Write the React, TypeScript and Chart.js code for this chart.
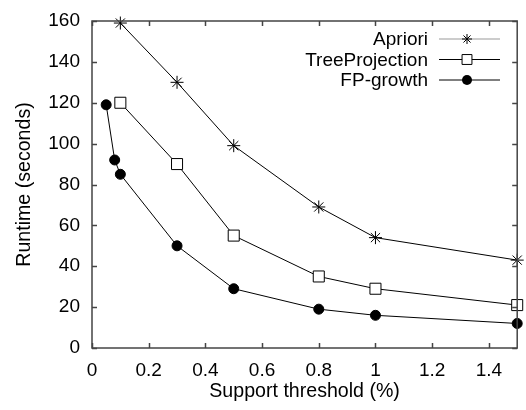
import React, { useEffect, useRef } from "react";
import { Chart, registerables } from "chart.js";

Chart.register(...registerables);

const seriesNames = ["Apriori", "TreeProjection", "FP-growth"];
const supportApriori = [0.1, 0.3, 0.5, 0.8, 1.0, 1.5];
const runtimeApriori = [159, 130, 99, 69, 54, 43];
const supportTree = [0.1, 0.3, 0.5, 0.8, 1.0, 1.5];
const runtimeTree = [120, 90, 55, 35, 29, 21];
const supportFP = [0.05, 0.08, 0.1, 0.3, 0.5, 0.8, 1.0, 1.5];
const runtimeFP = [119, 92, 85, 50, 29, 19, 16, 12];
const xTickStep = 0.2;
const xTickLast = 1.4;
const yTickStep = 20;

const FONT = "'Liberation Sans', Arial, Helvetica, sans-serif";

const toPoints = (xs: number[], ys: number[]) => xs.map((x, i) => ({ x, y: ys[i] }));

const framePlugin = {
  id: "frame",
  afterDatasetsDraw(chart: any) {
    const { ctx, chartArea: a, scales } = chart;
    ctx.save();
    ctx.strokeStyle = "#444";
    ctx.lineWidth = 1.5;
    ctx.strokeRect(a.left, a.top, a.right - a.left, a.bottom - a.top);
    const len = 5;
    ctx.beginPath();
    for (const t of scales.x.ticks) {
      if (t.value > xTickLast + 1e-6) continue;
      const px = Math.round(scales.x.getPixelForValue(t.value)) + 0.5;
      ctx.moveTo(px, a.bottom);
      ctx.lineTo(px, a.bottom - len);
      ctx.moveTo(px, a.top);
      ctx.lineTo(px, a.top + len);
    }
    for (const t of scales.y.ticks) {
      const py = Math.round(scales.y.getPixelForValue(t.value)) + 0.5;
      ctx.moveTo(a.left, py);
      ctx.lineTo(a.left + len, py);
      ctx.moveTo(a.right, py);
      ctx.lineTo(a.right - len, py);
    }
    ctx.stroke();
    ctx.restore();
  },
};

function drawMarker(ctx: CanvasRenderingContext2D, style: string, x: number, y: number, r: number) {
  ctx.beginPath();
  if (style === "star") {
    ctx.moveTo(x - r, y); ctx.lineTo(x + r, y);
    ctx.moveTo(x, y - r); ctx.lineTo(x, y + r);
    const d = r * Math.SQRT1_2;
    ctx.moveTo(x - d, y - d); ctx.lineTo(x + d, y + d);
    ctx.moveTo(x - d, y + d); ctx.lineTo(x + d, y - d);
    ctx.stroke();
  } else if (style === "rect") {
    const s = r * Math.SQRT1_2;
    ctx.fillStyle = "#fff";
    ctx.rect(x - s, y - s, 2 * s, 2 * s);
    ctx.fill();
    ctx.stroke();
  } else {
    ctx.fillStyle = "#000";
    ctx.arc(x, y, r, 0, Math.PI * 2);
    ctx.fill();
  }
}

const legendPlugin = {
  id: "customLegend",
  afterDraw(chart: any) {
    const { ctx } = chart;
    const styles = ["star", "rect", "circle"];
    const radii = [5, 7, 5];
    const lineColors = ["#999", "#000", "#000"];
    ctx.save();
    ctx.font = `19px ${FONT}`;
    ctx.textAlign = "right";
    ctx.textBaseline = "middle";
    seriesNames.forEach((name, i) => {
      const y = 39 + i * 20.5;
      ctx.fillStyle = "#000";
      ctx.fillText(name, 428, y + 1);
      ctx.strokeStyle = lineColors[i];
      ctx.lineWidth = 1;
      ctx.beginPath();
      ctx.moveTo(439, y);
      ctx.lineTo(500, y);
      ctx.stroke();
      ctx.strokeStyle = "#000";
      drawMarker(ctx, styles[i], 467, y, radii[i]);
    });
    ctx.restore();
  },
};

export default function App() {
  const ref = useRef<HTMLCanvasElement>(null);
  useEffect(() => {
    if (!ref.current) return;
    const common = {
      borderColor: "#000",
      borderWidth: 1,
      showLine: true,
      fill: false,
      tension: 0,
      clip: false as any,
      pointBorderColor: "#000",
      pointBorderWidth: 1,
    };
    const chart = new Chart(ref.current, {
      type: "scatter",
      data: {
        datasets: [
          {
            ...common,
            label: seriesNames[0],
            data: toPoints(supportApriori, runtimeApriori),
            pointStyle: "star",
            pointRadius: 6.5,
            pointBackgroundColor: "#000",
          },
          {
            ...common,
            label: seriesNames[1],
            data: toPoints(supportTree, runtimeTree),
            pointStyle: "rect",
            pointRadius: 7.8,
            pointBackgroundColor: "#fff",
          },
          {
            ...common,
            label: seriesNames[2],
            data: toPoints(supportFP, runtimeFP),
            pointStyle: "circle",
            pointRadius: 5,
            pointBackgroundColor: "#000",
          },
        ],
      },
      options: {
        responsive: false,
        animation: false,
        layout: { padding: { top: 21, right: 3, left: 0, bottom: 0 } },
        plugins: { legend: { display: false }, tooltip: { enabled: false } },
        scales: {
          x: {
            type: "linear",
            min: 0,
            max: 1.5,
            grid: { display: false },
            border: { display: false },
            afterFit: (scale: any) => {
              scale.height = 62;
            },
            ticks: {
              stepSize: xTickStep,
              includeBounds: false,
              padding: 3,
              color: "#000",
              font: { family: FONT, size: 19 },
              maxRotation: 0,
              autoSkip: false,
              callback: (v: any) =>
                Number(v) > xTickLast + 1e-6 ? "" : String(Math.round(Number(v) * 10) / 10),
            },
            title: {
              display: true,
              text: "Support threshold (%)",
              color: "#000",
              font: { family: FONT, size: 19.6 },
              padding: { top: 0, bottom: 7 },
            },
          },
          y: {
            type: "linear",
            min: 0,
            max: 160,
            grid: { display: false },
            border: { display: false },
            afterFit: (scale: any) => {
              scale.width = 92;
            },
            ticks: {
              stepSize: yTickStep,
              padding: 4,
              color: "#000",
              autoSkip: false,
              font: { family: FONT, size: 19 },
            },
            title: {
              display: true,
              text: "Runtime (seconds)",
              color: "#000",
              font: { family: FONT, size: 19.6 },
              padding: { top: 13, bottom: 0 },
            },
          },
        },
      },
      plugins: [framePlugin, legendPlugin],
    });
    return () => chart.destroy();
  }, []);
  return (
    <div style={{ position: "fixed", left: 0, top: 0, width: 526, height: 410, background: "#fff" }}>
      <canvas ref={ref} width={526} height={410} style={{ width: 526, height: 410 }} />
    </div>
  );
}
